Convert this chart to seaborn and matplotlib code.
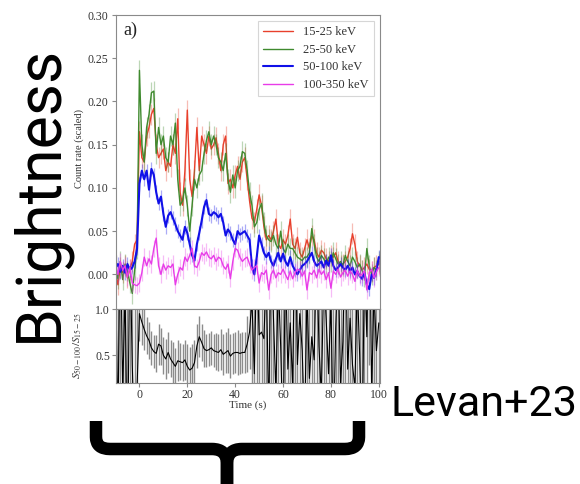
import numpy as np
import pandas as pd
import seaborn as sns
import matplotlib
matplotlib.use("Agg")
import matplotlib.pyplot as plt
from matplotlib.path import Path
from matplotlib.patches import PathPatch

# ---- light-curve data (1 s bins, t = -10 ... 100 s) ----
time_s = list(range(-10, 101))

rate_15_25 = [
    0.004, -0.012, 0.008, 0.002, 0.010, -0.004, 0.006, 0.015, 0.035, 0.040,
    0.165, 0.135, 0.130, 0.160, 0.170, 0.185, 0.192, 0.150, 0.135, 0.140,
    0.145, 0.120, 0.130, 0.125, 0.150, 0.140, 0.180, 0.095, 0.080, 0.120,
    0.190, 0.110, 0.090, 0.120, 0.170, 0.120, 0.160, 0.150, 0.140, 0.160,
    0.145, 0.150, 0.158, 0.140, 0.120, 0.150, 0.160, 0.105, 0.110, 0.100,
    0.115, 0.125, 0.110, 0.130, 0.135, 0.110, 0.085, 0.065, 0.060, 0.075,
    0.092, 0.080, 0.055, 0.040, 0.045, 0.040, 0.050, 0.064, 0.035, 0.030,
    0.040, 0.035, 0.045, 0.064, 0.035, 0.030, 0.043, 0.025, 0.020, 0.030,
    0.040, 0.030, 0.045, 0.040, 0.025, 0.020, 0.028, 0.025, 0.018, 0.015,
    0.022, 0.020, 0.025, 0.015, 0.010, 0.012, 0.015, 0.020, 0.030, 0.047,
    0.035, 0.015, 0.010, 0.005, 0.008, 0.012, 0.006, 0.003, 0.008, 0.010,
    0.012,
]
rate_25_50 = [
    0.010, -0.005, 0.015, -0.006, 0.012, 0.004, -0.010, -0.022, 0.005, 0.030,
    0.236, 0.150, 0.130, 0.170, 0.185, 0.210, 0.212, 0.140, 0.170, 0.150,
    0.160, 0.135, 0.130, 0.160, 0.150, 0.175, 0.110, 0.080, 0.085, 0.100,
    0.080, 0.050, 0.080, 0.110, 0.100, 0.115, 0.120, 0.140, 0.155, 0.165,
    0.150, 0.160, 0.150, 0.135, 0.130, 0.120, 0.140, 0.110, 0.095, 0.115,
    0.100, 0.120, 0.125, 0.142, 0.140, 0.120, 0.095, 0.080, 0.055, 0.060,
    0.075, 0.082, 0.060, 0.045, 0.040, 0.038, 0.045, 0.035, 0.030, 0.050,
    0.030, 0.025, 0.035, 0.030, 0.030, 0.025, 0.020, 0.018, 0.016, 0.020,
    0.020, 0.025, 0.053, 0.035, 0.020, 0.015, 0.022, 0.018, 0.012, 0.020,
    0.015, 0.025, 0.018, 0.012, 0.015, 0.010, 0.022, 0.015, 0.010, 0.020,
    0.015, 0.008, 0.012, 0.005, -0.003, 0.030, 0.010, 0.000, 0.008, 0.005,
    0.015,
]
rate_50_100 = [
    0.008, 0.012, 0.003, 0.010, 0.002, 0.012, 0.005, 0.008, 0.015, 0.030,
    0.105, 0.120, 0.110, 0.120, 0.098, 0.122, 0.115, 0.095, 0.082, 0.090,
    0.070, 0.055, 0.068, 0.072, 0.065, 0.058, 0.050, 0.045, 0.040, 0.055,
    0.048, 0.035, 0.022, 0.016, 0.035, 0.048, 0.062, 0.078, 0.086, 0.070,
    0.068, 0.072, 0.070, 0.066, 0.070, 0.060, 0.045, 0.052, 0.048, 0.040,
    0.035, 0.050, 0.046, 0.048, 0.050, 0.045, 0.040, 0.010, 0.000, 0.020,
    0.045, 0.035, 0.025, 0.020, 0.025, 0.015, 0.010, 0.018, 0.025, 0.015,
    0.024, 0.015, 0.010, 0.020, 0.010, 0.005, 0.000, 0.005, 0.010, 0.012,
    0.015, 0.020, 0.025, 0.015, 0.010, 0.012, 0.015, 0.008, 0.016, 0.010,
    0.022, 0.010, 0.005, 0.008, 0.012, 0.008, 0.005, 0.010, 0.004, 0.008,
    0.000, 0.004, -0.002, -0.005, 0.002, -0.012, -0.017, 0.000, -0.004, 0.005,
    0.020,
]
rate_100_350 = [
    0.012, 0.000, 0.015, 0.005, 0.010, -0.003, 0.008, -0.010, -0.012, -0.013,
    -0.010, 0.002, 0.020, 0.010, 0.018, 0.012, 0.030, 0.042, 0.010, 0.000,
    0.012, 0.005, 0.010, 0.008, 0.012, -0.012, 0.000, 0.008, 0.005, 0.020,
    0.015, 0.022, 0.030, 0.010, 0.008, 0.015, 0.025, 0.022, 0.026, 0.020,
    0.018, 0.022, 0.015, 0.020, 0.018, 0.010, 0.006, 0.012, -0.005, 0.015,
    0.030, 0.028, 0.020, 0.015, 0.018, 0.020, 0.012, 0.005, 0.008, 0.010,
    -0.010, 0.002, 0.000, 0.005, -0.018, 0.000, 0.005, -0.004, 0.002, 0.000,
    0.006, 0.000, -0.006, 0.004, -0.005, 0.002, 0.006, 0.005, -0.002, 0.004,
    -0.018, 0.002, 0.000, 0.005, -0.004, 0.006, 0.000, 0.004, -0.006, 0.002,
    -0.016, 0.004, 0.000, 0.006, -0.003, 0.002, 0.005, -0.002, 0.004, 0.000,
    -0.008, 0.005, -0.002, 0.000, 0.004, -0.018, 0.002, 0.006, -0.004, 0.003,
    0.008,
]
# 1-sigma uncertainty of each band
err_15_25 = 0.012
err_25_50 = 0.012
err_50_100 = 0.008
err_100_350 = 0.010

hardness = [
    1.50, -0.30, 2.00, 0.10, 1.20, -0.80, 1.80, 0.40, -0.50, 0.15,
    0.95, 0.86, 0.78, 0.71, 0.66, 0.58, 0.54, 0.52, 0.62, 0.60,
    0.50, 0.46, 0.53, 0.46, 0.42, 0.38, 0.44, 0.43, 0.42, 0.45,
    0.38, 0.34, 0.36, 0.42, 0.60, 0.70, 0.64, 0.57, 0.55, 0.56,
    0.58, 0.55, 0.54, 0.53, 0.56, 0.51, 0.53, 0.55, 0.49, 0.52,
    0.53, 0.53, 0.52, 0.53, 0.53, 0.62, 0.75, 1.10, 0.30, 1.60,
    0.72, 0.75, 0.68, 1.40, -0.20, 1.80, 0.90, 0.10, 1.30, 0.60,
    -0.40, 1.50, 0.35, 0.85, 0.15, 2.10, 0.40, 0.95, 0.55, -0.30,
    1.20, 0.25, 0.70, 0.45, 1.70, 0.60, 0.05, 1.40, 0.90, 0.30,
    1.10, -0.50, 0.80, 1.60, 0.20, 0.65, 1.90, 0.35, 0.90, 0.40,
    0.15, 1.30, 0.50, -0.60, 1.50, 0.70, 2.40, 0.10, 1.20, 0.55,
    0.85,
]
hardness_err = [
    2.0, 2.0, 2.0, 2.0, 2.0, 2.0, 2.0, 2.0, 2.0, 1.5,
    0.30, 0.25, 0.22, 0.20, 0.20, 0.18, 0.18, 0.20, 0.22, 0.20,
    0.20, 0.22, 0.22, 0.20, 0.22, 0.20, 0.22, 0.20, 0.20, 0.22,
    0.24, 0.25, 0.26, 0.25, 0.24, 0.22, 0.20, 0.20, 0.18, 0.18,
    0.18, 0.18, 0.20, 0.20, 0.22, 0.22, 0.22, 0.24, 0.24, 0.22,
    0.22, 0.24, 0.22, 0.22, 0.22, 0.30, 0.40, 1.0, 1.2, 1.5,
    0.8, 0.9, 0.8, 1.5, 1.8, 2.0, 1.5, 1.8, 2.0, 1.5,
    2.0, 2.0, 1.8, 1.5, 2.0, 2.0, 1.8, 2.0, 1.5, 2.0,
    2.0, 1.8, 2.0, 1.5, 2.0, 2.0, 1.8, 2.0, 2.0, 1.5,
    2.0, 2.0, 1.8, 2.0, 2.0, 1.5, 2.0, 2.0, 1.8, 2.0,
    2.0, 2.0, 1.5, 2.0, 2.0, 1.8, 2.0, 2.0, 2.0, 1.5,
    2.0,
]

band_labels = ["15-25 keV", "25-50 keV", "50-100 keV", "100-350 keV"]
band_colors = ["#e8402c", "#3f8a2e", "#1010e8", "#e83ce8"]

# ---- styling ----
sns.set_theme(style="ticks")
plt.rcParams["font.family"] = ["Liberation Serif", "DejaVu Serif"]
plt.rcParams["mathtext.fontset"] = "stix"
plt.rcParams["axes.edgecolor"] = "#8a8a8a"
plt.rcParams["axes.linewidth"] = 0.8
plt.rcParams["xtick.color"] = "#8a8a8a"
plt.rcParams["ytick.color"] = "#8a8a8a"
plt.rcParams["xtick.labelcolor"] = "#333333"
plt.rcParams["ytick.labelcolor"] = "#333333"

W, H = 580, 484
fig = plt.figure(figsize=(W / 100, H / 100), dpi=100)
fig.patch.set_facecolor("white")

left, right = 115.5 / W, 380 / W
ax = fig.add_axes([left, 1 - 309 / H, right - left, (309 - 15) / H])
axr = fig.add_axes([left, 1 - 383 / H, right - left, (383 - 309) / H], sharex=ax)

df = pd.DataFrame({
    "t": time_s,
    band_labels[0]: rate_15_25,
    band_labels[1]: rate_25_50,
    band_labels[2]: rate_50_100,
    band_labels[3]: rate_100_350,
    "ratio": hardness,
    "ratio_err": hardness_err,
})
errs = [err_15_25, err_25_50, err_50_100, err_100_350]
widths = [1.0, 1.0, 1.5, 1.0]

for lab, col, e, lw in zip(band_labels, band_colors, errs, widths):
    ax.vlines(df["t"], df[lab] - e, df[lab] + e, color=col, alpha=0.35, lw=0.9)
    sns.lineplot(data=df, x="t", y=lab, ax=ax, color=col, lw=lw,
                 label=lab, estimator=None)

ax.set_xlim(-10, 100.5)
ax.set_ylim(-0.04, 0.30)
ax.set_yticks([0.00, 0.05, 0.10, 0.15, 0.20, 0.25, 0.30])
ax.set_yticklabels(["0.00", "0.05", "0.10", "0.15", "0.20", "0.25", "0.30"])
ax.tick_params(axis="x", labelbottom=False, length=0)
ax.tick_params(axis="y", labelsize=8.5, length=3, width=0.8, pad=2)
ax.set_xlabel("")
ax.set_ylabel("Count rate (scaled)", fontsize=7.5, color="#333333")
ax.yaxis.set_label_coords(-0.12, 0.545)
ax.text(0.028, 0.978, "a)", transform=ax.transAxes, fontsize=13,
        va="top", ha="left", color="#222222")
leg = ax.legend(loc="upper right", fontsize=9, handlelength=2.4,
                frameon=True, fancybox=False, borderaxespad=0.5,
                labelspacing=0.45)
leg.get_frame().set_edgecolor("#cccccc")
leg.get_frame().set_linewidth(0.8)
for t in leg.get_texts():
    t.set_color("#333333")

# hardness ratio panel
axr.vlines(df["t"], df["ratio"] - df["ratio_err"], df["ratio"] + df["ratio_err"],
           color="#8c8c8c", lw=1.0)
sns.lineplot(data=df, x="t", y="ratio", ax=axr, color="black", lw=0.8,
             estimator=None)
axr.set_ylim(0.2, 1.0)
axr.set_yticks([0.5, 1.0])
axr.set_yticklabels(["0.5", "1.0"])
axr.set_xticks([0, 20, 40, 60, 80, 100])
axr.tick_params(axis="both", labelsize=8.5, length=3, width=0.8, pad=1)
axr.set_xlabel("Time (s)", fontsize=8, color="#333333", labelpad=0)
axr.set_ylabel(r"$S_{50-100}/S_{15-25}$", fontsize=8, color="#333333")
axr.yaxis.set_label_coords(-0.12, 0.5)

# slide annotations
fig.text(40 / W, 1 - 193 / H, "Brightness", rotation=90, ha="center",
         va="center", fontsize=45, family="Roboto", color="black")
fig.text(390 / W, 1 - 404 / H, "Levan+23", ha="left", va="center",
         fontsize=31, family="Roboto", color="black")


def fp(x, y):
    return (x / W, 1 - y / H)


brace_halves = [
    [fp(96, 421), fp(96, 437), fp(96, 449), fp(110, 449), fp(212, 449),
     fp(227, 449), fp(227, 464), fp(227, 490)],
    [fp(359, 421), fp(359, 437), fp(359, 449), fp(345, 449), fp(242, 449),
     fp(227, 449), fp(227, 464), fp(227, 490)],
]
codes = [Path.MOVETO, Path.LINETO, Path.CURVE3, Path.CURVE3, Path.LINETO,
         Path.CURVE3, Path.CURVE3, Path.LINETO]
for verts in brace_halves:
    patch = PathPatch(Path(verts, codes), facecolor="none", edgecolor="black",
                      lw=9, transform=fig.transFigure, capstyle="butt",
                      joinstyle="round")
    fig.add_artist(patch)

fig.savefig("out.png", dpi=100, facecolor="white")
